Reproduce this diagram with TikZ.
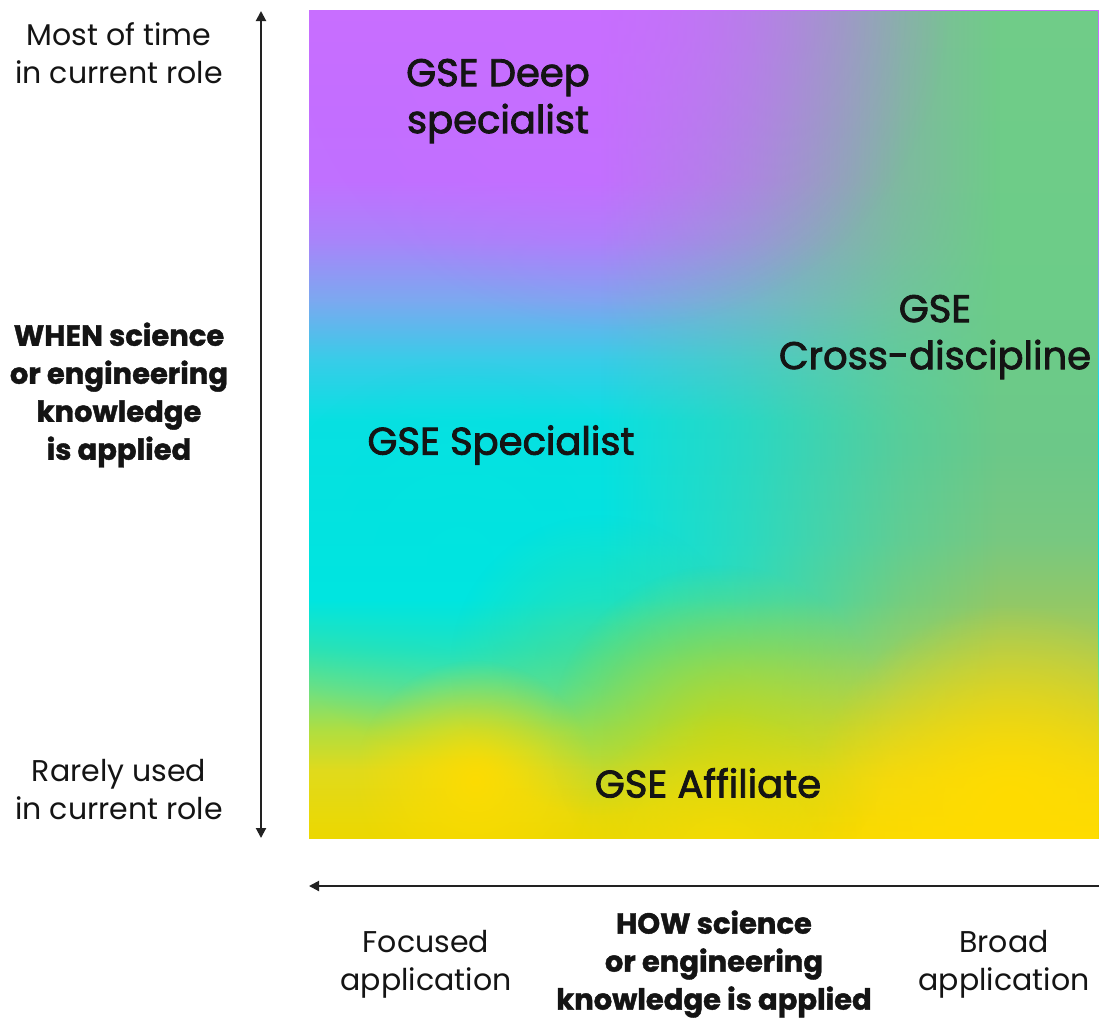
\documentclass[tikz,border=0pt]{standalone}
\usepackage{fontspec}
\setmainfont{Poppins}
\newfontfamily\zonefont[FakeBold=2.2]{Poppins}
\newfontfamily\titlefont[BoldFeatures={FakeBold=1.4}]{Poppins}
\usetikzlibrary{arrows.meta,fadings}

\definecolor{inkdark}{HTML}{141414}
\definecolor{axisgrey}{HTML}{222222}
\definecolor{violet}{HTML}{C86EFF}
\definecolor{aqua}{HTML}{00E5E0}
\definecolor{sunny}{HTML}{FFDC00}
\definecolor{sage}{HTML}{6CCC88}
\definecolor{lime}{HTML}{C0D818}
\definecolor{mint}{HTML}{50DC8C}

% left edge colour ramp, bottom (25bp) to top (75bp)
\pgfdeclareverticalshading{leftramp}{100bp}{%
  color(0bp)=(rgb,255:red,236;green,216;blue,0);
  color(25bp)=(rgb,255:red,236;green,216;blue,0);
  color(29.1bp)=(rgb,255:red,224;green,218;blue,28);
  color(31.5bp)=(rgb,255:red,176;green,222;blue,64);
  color(33.9bp)=(rgb,255:red,112;green,224;blue,128);
  color(36.4bp)=(rgb,255:red,48;green,226;blue,176);
  color(39.4bp)=(aqua);
  color(50.2bp)=(rgb,255:red,8;green,224;blue,226);
  color(53.9bp)=(rgb,255:red,56;green,204;blue,232);
  color(57.5bp)=(rgb,255:red,124;green,168;blue,240);
  color(61.1bp)=(rgb,255:red,168;green,132;blue,250);
  color(64.7bp)=(rgb,255:red,192;green,112;blue,255);
  color(75bp)=(violet);
  color(100bp)=(violet)}

% right edge colour ramp, bottom (25bp) to top (75bp)
\pgfdeclareverticalshading{rightramp}{100bp}{%
  color(0bp)=(sunny);
  color(25bp)=(sunny);
  color(28.5bp)=(rgb,255:red,244;green,216;blue,16);
  color(32.1bp)=(rgb,255:red,208;green,208;blue,48);
  color(35.7bp)=(rgb,255:red,176;green,204;blue,80);
  color(39.4bp)=(rgb,255:red,144;green,200;blue,104);
  color(43bp)=(rgb,255:red,120;green,200;blue,128);
  color(48.4bp)=(rgb,255:red,108;green,200;blue,136);
  color(57.5bp)=(sage);
  color(75bp)=(rgb,255:red,112;green,204;blue,136);
  color(100bp)=(rgb,255:red,112;green,204;blue,136)}

% horizontal mask: clear on the left, opaque on the right
\pgfdeclarehorizontalshading{rightmaskramp}{100bp}{%
  color(0bp)=(black);
  color(25bp)=(black);
  color(43.4bp)=(black);
  color(52.9bp)=(rgb,1:red,0.35;green,0.35;blue,0.35);
  color(62.4bp)=(rgb,1:red,0.8;green,0.8;blue,0.8);
  color(68.7bp)=(white);
  color(75bp)=(white);
  color(100bp)=(white)}
\pgfdeclarefading{fromright}{\pgfuseshading{rightmaskramp}}

% soft round spot used to blend colours into the field
\tikzfading[name=softspot, inner color=transparent!0, outer color=transparent!100]

\tikzset{
  axislabel/.style={inner sep=0pt, align=center, text=inkdark,
    font=\fontsize{30}{38}\selectfont},
  axistitle/.style={axislabel, font=\titlefont\fontsize{29}{38}\selectfont\bfseries},
  zonelabel/.style={inner sep=0pt, align=center, text=inkdark,
    font=\zonefont\fontsize{38.5}{47}\selectfont},
  axisarrow/.style={draw=axisgrey, line width=2pt,
    arrows={-Triangle[length=10pt,width=10pt]}},
  spot/.style={path fading=softspot}
}

\begin{document}
\begin{tikzpicture}[x=1pt,y=-1pt]
\useasboundingbox (0,0) rectangle (1099,1021);

% colour field
\begin{scope}
  \clip (309,10) rectangle (1099,838);
  \shade[shading=leftramp] (309,10) rectangle (1099,838);
  \shade[shading=rightramp, path fading=fromright] (309,10) rectangle (1099,838);
  \fill[violet, spot, opacity=0.8] (620,0) circle (330);
  \fill[aqua, spot, opacity=0.6] (460,560) circle (200);
  \fill[mint, spot, opacity=0.6] (600,665) circle (150);
  \fill[lime, spot, opacity=0.8] (720,735) circle (170);
  \fill[sunny, spot, opacity=0.9] (475,780) circle (120);
  \fill[sunny, spot] (1010,805) circle (200);
  \fill[sunny, spot, opacity=0.7] (720,860) circle (150);
\end{scope}

% axes
\coordinate (vtop) at (261,11);
\coordinate (vbot) at (261,838);
\coordinate (hright) at (1099,886);
\coordinate (hleft) at (309,886);
\path[axisarrow, arrows={Triangle[length=10pt,width=10pt]-Triangle[length=10pt,width=10pt]}] (vbot) -- (vtop);
\path[axisarrow] (hright) -- (hleft);

% vertical axis labels
\node[axislabel] (mosttime) at (119,53) {Most of time\\in current role};
\node[axistitle] (when) at (119,395) {WHEN science\\or engineering\\knowledge\\is applied};
\node[axislabel] (rarely) at (119,790) {Rarely used\\in current role};

% horizontal axis labels
\node[axislabel] (focused) at (426,964) {Focused\\application};
\node[axistitle] (how) at (714,964) {HOW science\\or engineering\\knowledge is applied};
\node[axislabel] (broad) at (1004,964) {Broad\\application};

% zone labels
\node[zonelabel] (deep) at (498,101) {GSE Deep\\specialist};
\node[zonelabel] (cross) at (935,337) {GSE\\Cross-discipline};
\node[zonelabel] (spec) at (501,445) {GSE Specialist};
\node[zonelabel] (affil) at (708,783) {GSE Affiliate};
\end{tikzpicture}
\end{document}
